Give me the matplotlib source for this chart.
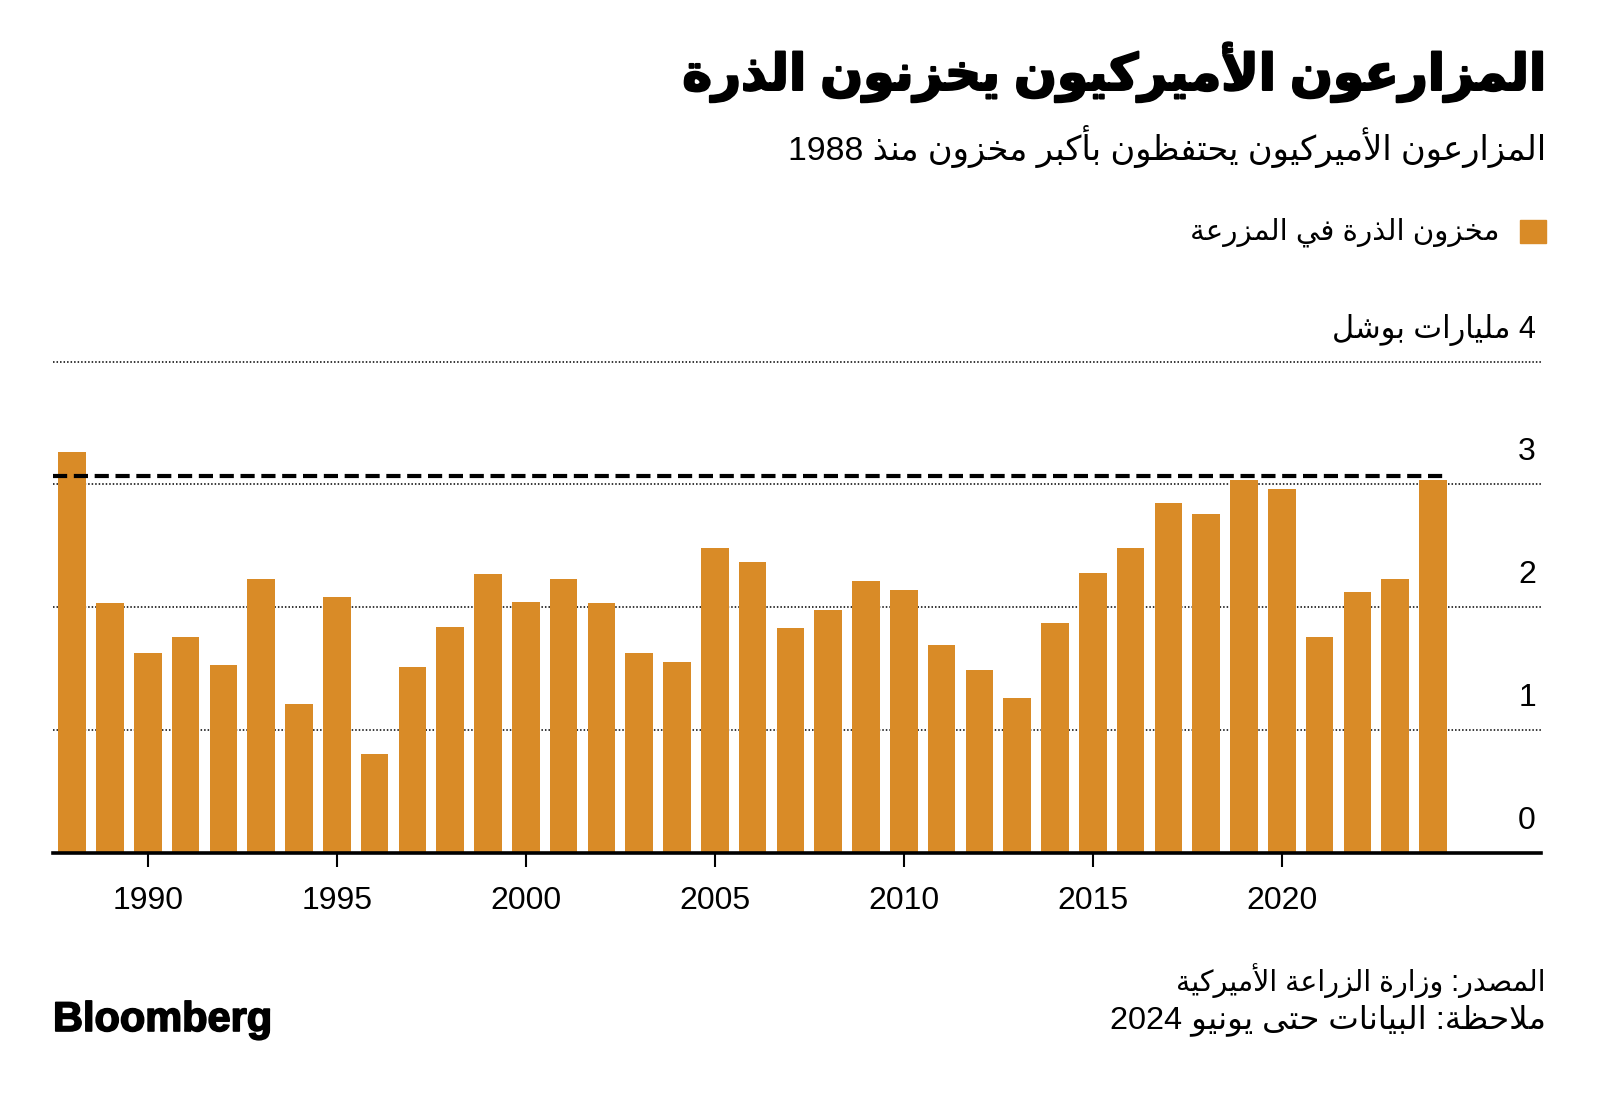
import re
import matplotlib
matplotlib.use('Agg')
import matplotlib.pyplot as plt
import matplotlib.patheffects as pe
from matplotlib.patches import Rectangle

# June 1 on-farm corn stocks, billion bushels
years = list(range(1988, 2025))
stocks = [3.26, 2.03, 1.63, 1.76, 1.53, 2.23, 1.21, 2.08, 0.80, 1.51,
          1.84, 2.27, 2.04, 2.23, 2.03, 1.63, 1.55, 2.48, 2.37, 1.83,
          1.98, 2.21, 2.14, 1.69, 1.49, 1.26, 1.87, 2.28, 2.48, 2.85,
          2.76, 3.035, 2.96, 1.76, 2.12, 2.23, 3.035]
ref_level = 3.07
year_ticks = [1990, 1995, 2000, 2005, 2010, 2015, 2020]
value_ticks = [0, 1, 2, 3]
unit_label = '4 مليارات بوشل'

title = 'المزارعون الأميركيون يخزنون الذرة'
subtitle = 'المزارعون الأميركيون يحتفظون بأكبر مخزون منذ 1988'
legend_label = 'مخزون الذرة في المزرعة'
source = 'المصدر: وزارة الزراعة الأميركية'
note = 'ملاحظة: البيانات حتى يونيو 2024'

bar_color = '#d98b27'

# matplotlib has no arabic shaping, so map letters to presentation forms
FORMS = {
    'ا': 'FE8D FE8E', 'أ': 'FE83 FE84', 'إ': 'FE87 FE88', 'آ': 'FE81 FE82',
    'ب': 'FE8F FE90 FE91 FE92', 'ة': 'FE93 FE94', 'ت': 'FE95 FE96 FE97 FE98',
    'ث': 'FE99 FE9A FE9B FE9C', 'ج': 'FE9D FE9E FE9F FEA0',
    'ح': 'FEA1 FEA2 FEA3 FEA4', 'خ': 'FEA5 FEA6 FEA7 FEA8',
    'د': 'FEA9 FEAA', 'ذ': 'FEAB FEAC', 'ر': 'FEAD FEAE', 'ز': 'FEAF FEB0',
    'س': 'FEB1 FEB2 FEB3 FEB4', 'ش': 'FEB5 FEB6 FEB7 FEB8',
    'ص': 'FEB9 FEBA FEBB FEBC', 'ض': 'FEBD FEBE FEBF FEC0',
    'ط': 'FEC1 FEC2 FEC3 FEC4', 'ظ': 'FEC5 FEC6 FEC7 FEC8',
    'ع': 'FEC9 FECA FECB FECC', 'غ': 'FECD FECE FECF FED0',
    'ف': 'FED1 FED2 FED3 FED4', 'ق': 'FED5 FED6 FED7 FED8',
    'ك': 'FED9 FEDA FEDB FEDC', 'ل': 'FEDD FEDE FEDF FEE0',
    'م': 'FEE1 FEE2 FEE3 FEE4', 'ن': 'FEE5 FEE6 FEE7 FEE8',
    'ه': 'FEE9 FEEA FEEB FEEC', 'و': 'FEED FEEE', 'ى': 'FEEF FEF0',
    'ي': 'FEF1 FEF2 FEF3 FEF4',
    'لا': 'FEFB FEFC', 'لأ': 'FEF7 FEF8', 'لإ': 'FEF9 FEFA', 'لآ': 'FEF5 FEF6',
}
FORMS = {k: [chr(int(h, 16)) for h in v.split()] for k, v in FORMS.items()}


def ar(text):
    toks = []
    i = 0
    while i < len(text):
        if text[i:i + 2] in FORMS:
            toks.append(text[i:i + 2])
            i += 2
        else:
            toks.append(text[i])
            i += 1
    out = []
    for k, t in enumerate(toks):
        if t not in FORMS:
            out.append(t)
            continue
        f = FORMS[t]
        prev = k > 0 and toks[k - 1] in FORMS and len(FORMS[toks[k - 1]]) == 4
        nxt = len(f) == 4 and k + 1 < len(toks) and toks[k + 1] in FORMS
        idx = {(False, False): 0, (True, False): 1, (False, True): 2, (True, True): 3}[(prev, nxt)]
        out.append(f[idx])
    vis = ''.join(out)[::-1]
    return re.sub(r'[0-9]+', lambda m: m.group(0)[::-1], vis)


fam = ['Liberation Sans', 'DejaVu Sans']
W, H = 1600, 1098
fig = plt.figure(figsize=(W / 100, H / 100), dpi=100)


def fx(x):
    return x / W


def fy(y):
    return 1 - y / H


ax = fig.add_axes([fx(53), fy(852.7), fx(1541) - fx(53), fy(330.8) - fy(852.7)])
ax.patch.set_alpha(0)
ax.bar(years, stocks, width=0.73, color=bar_color, zorder=2)
ax.hlines(ref_level, years[0] - 0.5, years[-1] + 0.35, colors='black', lw=3,
          linestyles=(0, (3.4, 1.6)), zorder=3)
ax.set_xlim(1987.49, 2026.86)
ax.set_ylim(0, 4.25)

ax.set_yticks([0, 1, 2, 3, 4])
ax.tick_params(axis='y', length=0, labelleft=False)
ax.grid(axis='y', color='black', lw=1.1, ls=(0, (1, 1.3)), zorder=1)
for v in value_ticks:
    ax.annotate(str(v), xy=(0.9966, v), xycoords=('axes fraction', 'data'),
                xytext=(0, 23), textcoords='offset points', ha='right', va='center',
                fontsize=23, family=fam)
ax.annotate(ar(unit_label), xy=(0.9966, 4), xycoords=('axes fraction', 'data'),
            xytext=(0, 22.5), textcoords='offset points', ha='right', va='center',
            fontsize=22, family=fam)

ax.set_xticks(year_ticks)
ax.set_xticklabels([str(y) for y in year_ticks], fontsize=23, family=fam)
ax.tick_params(axis='x', direction='out', length=10, width=1.5, pad=14, color='black')
for s in ['top', 'left', 'right']:
    ax.spines[s].set_visible(False)
ax.spines['bottom'].set_linewidth(2.6)
ax.spines['bottom'].set_zorder(4)

bold = [pe.withStroke(linewidth=1.6, foreground='black')]
t_title = fig.text(fx(1546), fy(72), ar(title), ha='right', va='center',
                   fontsize=36, fontweight='bold', family=fam, path_effects=bold)
t_sub = fig.text(fx(1546), fy(146), ar(subtitle), ha='right', va='center',
                 fontsize=24, family=fam)
fig.patches.append(Rectangle((fx(1520), fy(243)), fx(26), 23 / H,
                             transform=fig.transFigure, color=bar_color))
t_leg = fig.text(fx(1500), fy(232), ar(legend_label), ha='right', va='center',
                 fontsize=22, family=fam)
t_src = fig.text(fx(1546), fy(981), ar(source), ha='right', va='center',
                 fontsize=22, family=fam)
t_note = fig.text(fx(1546), fy(1020), ar(note), ha='right', va='center',
                  fontsize=22, family=fam)
t_logo = fig.text(fx(53), fy(1020), 'Bloomberg', ha='left', va='center',
                  fontsize=30, fontweight='bold', family='Liberation Sans',
                  path_effects=[pe.withStroke(linewidth=1.2, foreground='black')])

# scale the header/footer texts to the widths they take in the original
fig.canvas.draw()
r = fig.canvas.get_renderer()
for t, w in [(t_title, 864), (t_sub, 763), (t_leg, 309), (t_src, 370),
             (t_note, 434), (t_logo, 219)]:
    t.set_fontsize(t.get_fontsize() * w / t.get_window_extent(r).width)

fig.savefig('out.png', dpi=100, facecolor='white')
